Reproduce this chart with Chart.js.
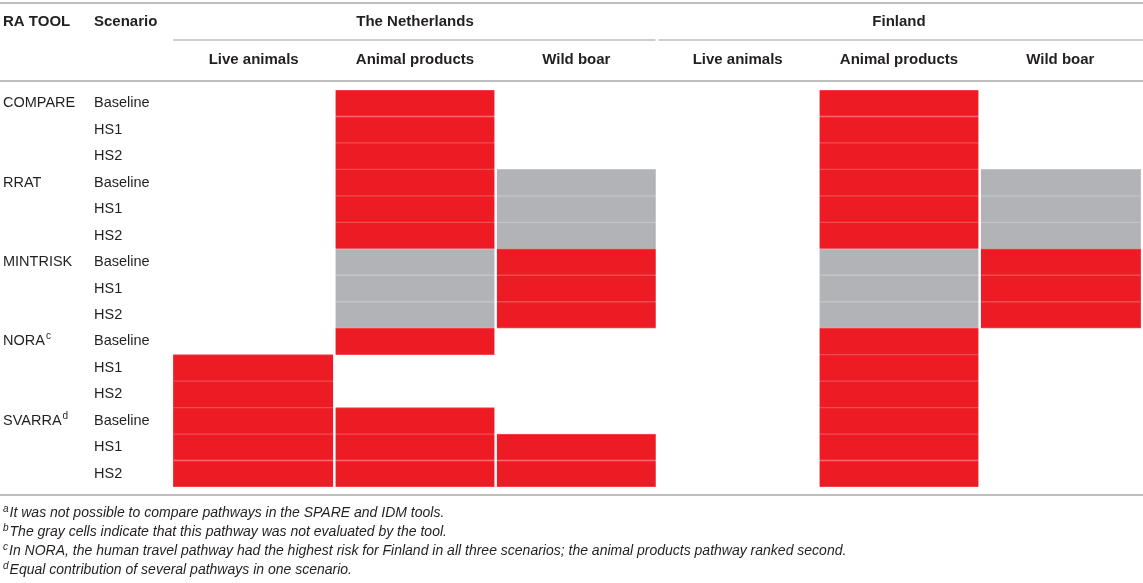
<!DOCTYPE html>
<html>
<head>
<meta charset="utf-8">
<script src="https://cdn.jsdelivr.net/npm/chart.js@4.4.1/dist/chart.umd.min.js"></script>
<style>
  html, body { margin: 0; padding: 0; background: #fff; }
  #wrap { width: 1143px; height: 583px; position: relative; }
</style>
</head>
<body>
<div id="wrap"><canvas id="tableChart"></canvas></div>
<script>
// row labels
const tools = [
  { name: "COMPARE", sup: "" },
  { name: "RRAT", sup: "" },
  { name: "MINTRISK", sup: "" },
  { name: "NORA", sup: "c" },
  { name: "SVARRA", sup: "d" },
];
const scenarios = ["Baseline", "HS1", "HS2"];
const countries = ["The Netherlands", "Finland"];
const pathways = ["Live animals", "Animal products", "Wild boar"];

// one array per column, 15 rows (R = highest risk, G = not evaluated)
const nlLive     = ["", "", "", "", "", "", "", "", "", "", "R", "R", "R", "R", "R"];
const nlProducts = ["R", "R", "R", "R", "R", "R", "G", "G", "G", "R", "", "", "R", "R", "R"];
const nlBoar     = ["", "", "", "G", "G", "G", "R", "R", "R", "", "", "", "", "R", "R"];
const fiLive     = ["", "", "", "", "", "", "", "", "", "", "", "", "", "", ""];
const fiProducts = ["R", "R", "R", "R", "R", "R", "G", "G", "G", "R", "R", "R", "R", "R", "R"];
const fiBoar     = ["", "", "", "G", "G", "G", "R", "R", "R", "", "", "", "", "", ""];

const footnotes = [
  { sup: "a", text: "It was not possible to compare pathways in the SPARE and IDM tools." },
  { sup: "b", text: "The gray cells indicate that this pathway was not evaluated by the tool." },
  { sup: "c", text: "In NORA, the human travel pathway had the highest risk for Finland in all three scenarios; the animal products pathway ranked second." },
  { sup: "d", text: "Equal contribution of several pathways in one scenario." },
];

const RED = "#ED1C24";
const GRAY = "#B1B3B6";
const RULE = "#BEBEBE";
const INK = "#231F20";
const FONT = "'Liberation Sans', Arial, Helvetica, sans-serif";

const columns = [nlLive, nlProducts, nlBoar, fiLive, fiProducts, fiBoar];
const rowLabels = [];
tools.forEach((t) => scenarios.forEach((s) => rowLabels.push(t.name + " " + s)));

const datasets = columns.map((col, c) => ({
  data: col.map((v) => (v ? [c, c + 1] : null)),
  backgroundColor: col.map((v) => (v === "R" ? RED : GRAY)),
  borderColor: col.map((v) => (v === "R" ? "#F04A50" : "#C2C4C6")),
  borderWidth: 1,
  borderSkipped: false,
  grouped: false,
  barPercentage: 1,
  categoryPercentage: 1,
}));

function hline(ctx, x1, x2, y, w) {
  ctx.save();
  ctx.strokeStyle = RULE;
  ctx.lineWidth = w;
  ctx.beginPath();
  ctx.moveTo(x1, y);
  ctx.lineTo(x2, y);
  ctx.stroke();
  ctx.restore();
}

const tablePlugin = {
  id: "tableText",
  afterDatasetsDraw(chart) {
    const { ctx, chartArea } = chart;
    const x = chart.scales.x;
    // white gaps between columns
    ctx.save();
    ctx.strokeStyle = "#fff";
    ctx.lineWidth = 2.5;
    for (let c = 1; c < columns.length; c++) {
      const px = x.getPixelForValue(c);
      ctx.beginPath();
      ctx.moveTo(px, chartArea.top - 1);
      ctx.lineTo(px, chartArea.bottom + 1);
      ctx.stroke();
    }
    ctx.restore();
  },
  afterDraw(chart) {
    const { ctx, chartArea, width } = chart;
    const x = chart.scales.x;
    const y = chart.scales.y;

    // rules
    hline(ctx, 0, width, 3, 2);
    hline(ctx, x.getPixelForValue(0), x.getPixelForValue(3) - 1.5, 40, 1.5);
    hline(ctx, x.getPixelForValue(3) + 1.5, width, 40, 1.5);
    hline(ctx, 0, width, 81, 2);
    hline(ctx, 0, width, chartArea.bottom + 8, 2);

    ctx.save();
    ctx.fillStyle = INK;
    ctx.textBaseline = "middle";

    // headers
    ctx.font = "bold 15px " + FONT;
    ctx.textAlign = "left";
    ctx.fillText("RA TOOL", 3, 22);
    ctx.fillText("Scenario", 94, 22);
    ctx.textAlign = "center";
    countries.forEach((name, i) => {
      const cx = (x.getPixelForValue(i * 3) + x.getPixelForValue(i * 3 + 3)) / 2;
      ctx.fillText(name, cx, 22);
      pathways.forEach((p, j) => {
        const k = i * 3 + j;
        ctx.fillText(p, (x.getPixelForValue(k) + x.getPixelForValue(k + 1)) / 2, 60);
      });
    });

    // row labels
    ctx.textAlign = "left";
    rowLabels.forEach((lab, r) => {
      const py = y.getPixelForValue(r);
      ctx.font = "14.5px " + FONT;
      if (r % 3 === 0) {
        const t = tools[r / 3];
        ctx.fillText(t.name, 3, py);
        if (t.sup) {
          const w = ctx.measureText(t.name).width;
          ctx.font = "10px " + FONT;
          ctx.fillText(t.sup, 3 + w + 1, py - 5);
          ctx.font = "14.5px " + FONT;
        }
      }
      ctx.fillText(scenarios[r % 3], 94, py);
    });

    // footnotes
    footnotes.forEach((f, i) => {
      const py = 513 + i * 19;
      ctx.font = "italic 10px " + FONT;
      ctx.fillText(f.sup, 3, py - 4);
      const sw = ctx.measureText(f.sup).width;
      ctx.font = "italic 14px " + FONT;
      ctx.fillText(f.text, 3 + sw + 1, py);
    });
    ctx.restore();
  },
};

new Chart(document.getElementById("tableChart").getContext("2d"), {
  type: "bar",
  data: { labels: rowLabels, datasets: datasets },
  options: {
    indexAxis: "y",
    responsive: true,
    maintainAspectRatio: false,
    animation: false,
    layout: { padding: { left: 173, right: 2, top: 90, bottom: 96 } },
    scales: {
      x: { type: "linear", min: 0, max: 6, display: false },
      y: { type: "category", display: false, offset: true },
    },
    plugins: {
      legend: { display: false },
      tooltip: { enabled: false },
    },
  },
  plugins: [tablePlugin],
});
</script>
</body>
</html>
